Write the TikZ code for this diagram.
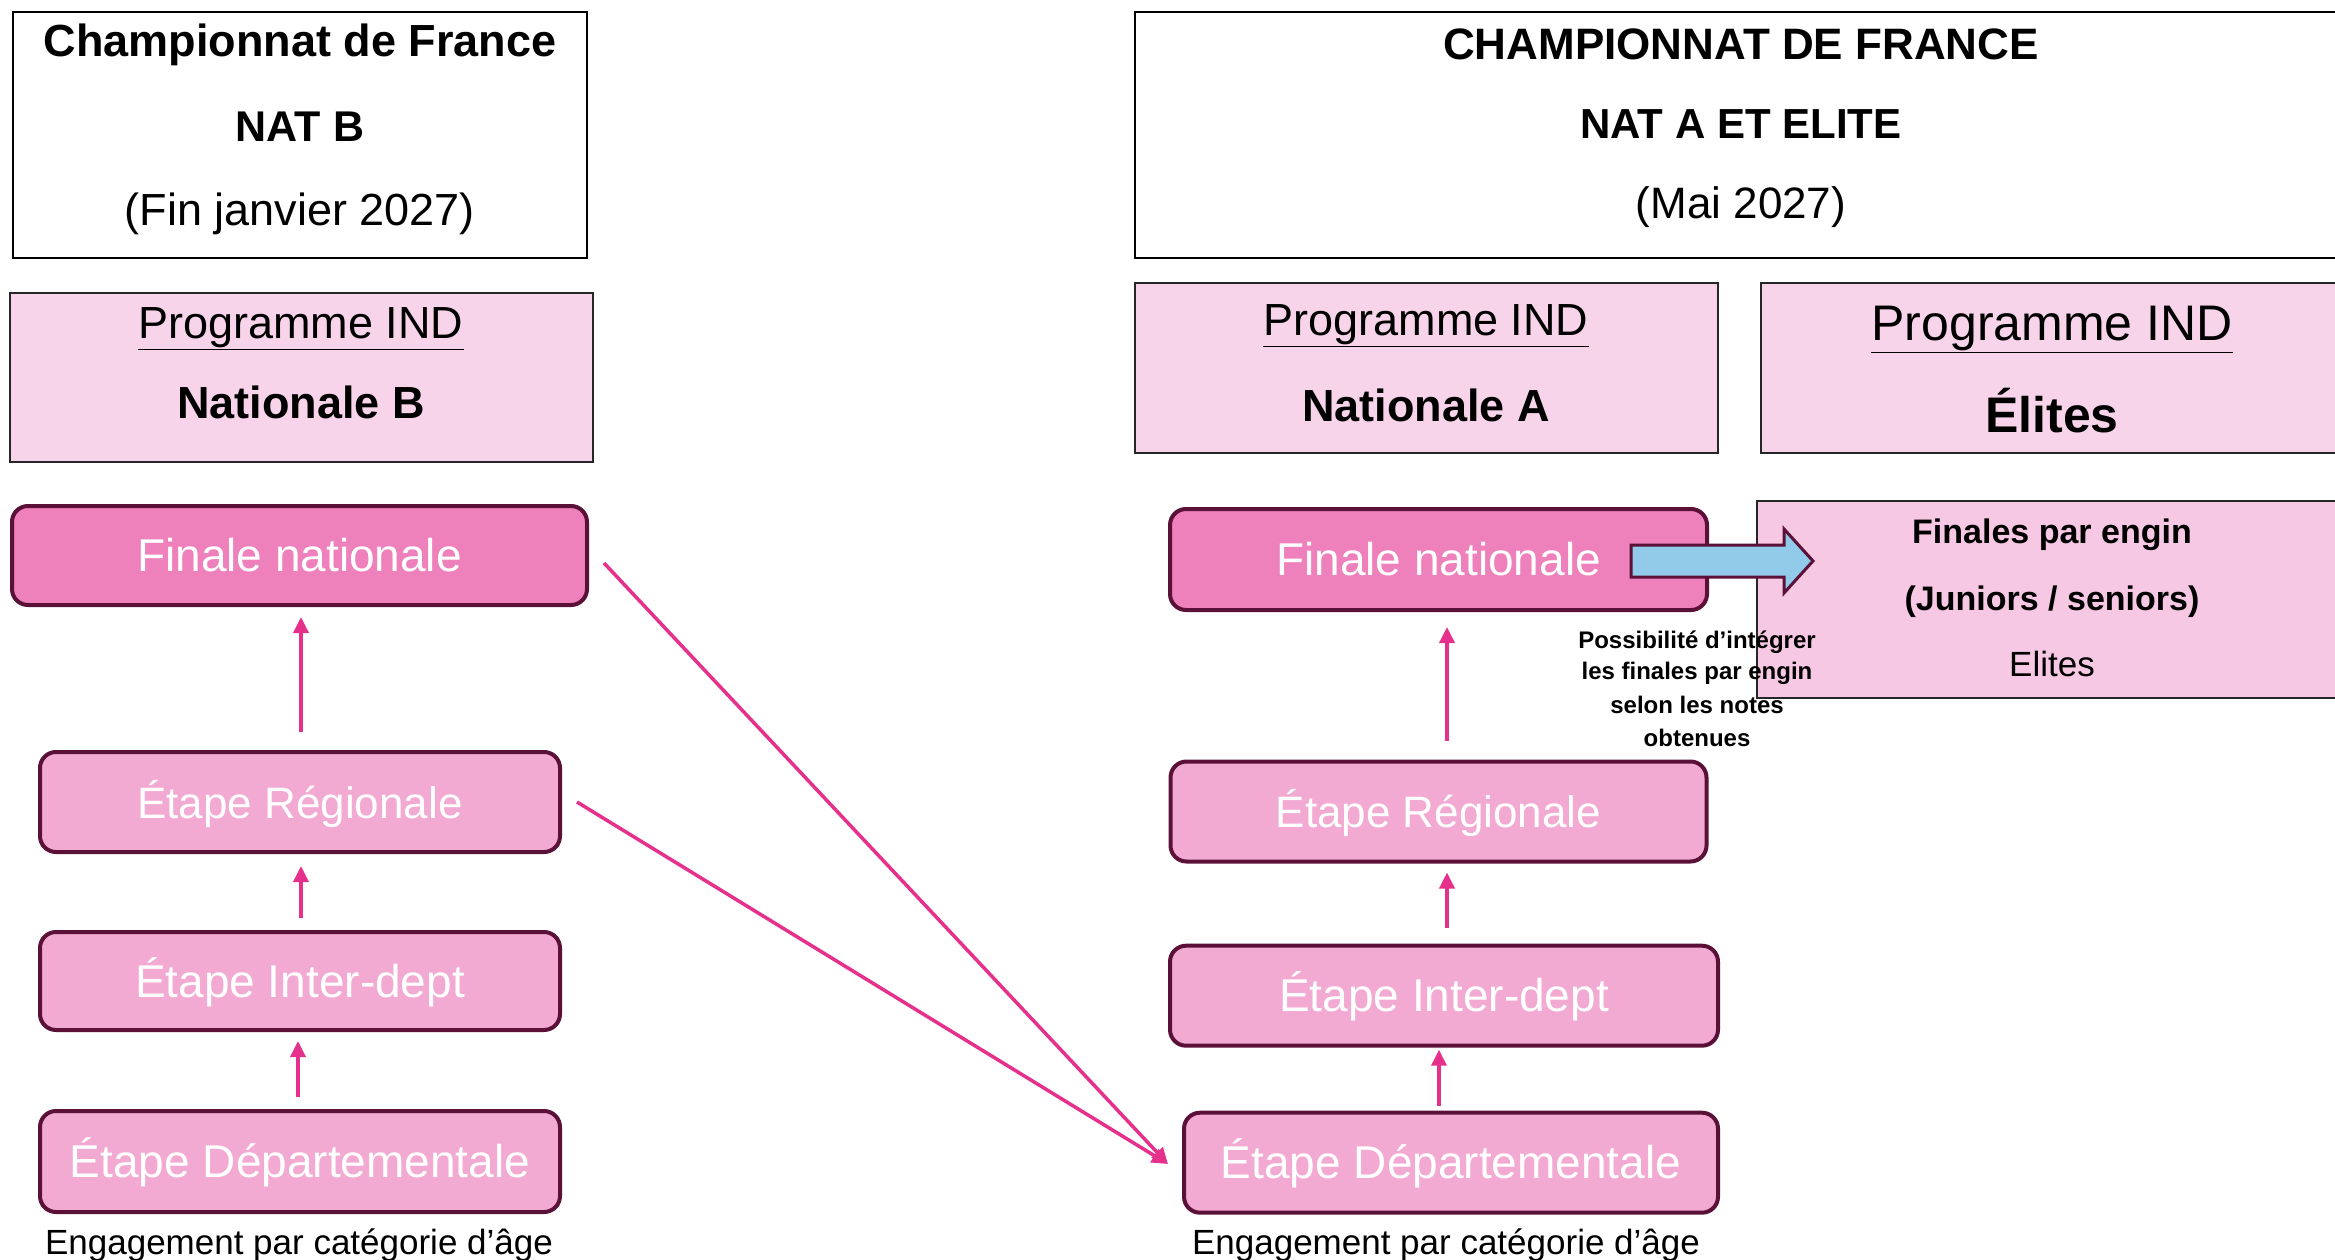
\documentclass[tikz,border=0pt]{standalone}
\usepackage{fontspec}
\setmainfont{Liberation Sans}
\usetikzlibrary{arrows.meta}
\definecolor{finpink}{HTML}{EE80BC}
\definecolor{stagepink}{HTML}{F2AAD3}
\definecolor{progpink}{HTML}{F7D4E9}
\definecolor{enginpink}{HTML}{F7C8E3}
\definecolor{darkplum}{HTML}{5B1038}
\definecolor{arrowpink}{HTML}{E5318C}
\definecolor{bluefill}{HTML}{92CBEA}
\newcommand\fsz[1]{\fontsize{#1}{#1}\selectfont}
\tikzset{
  titlebox/.style={draw=black, line width=2pt, fill=white, inner sep=0pt},
  progbox/.style={draw=black!85, line width=2pt, fill=progpink, inner sep=0pt},
  stagebox/.style={draw=darkplum, line width=4pt, rounded corners=16pt, fill=stagepink, text=white, inner sep=0pt, text height=40pt, text depth=8pt},
  finbox/.style={stagebox, fill=finpink},
  flow/.style={draw=arrowpink, line width=3.5pt, -{Triangle[length=16pt,width=15pt]}},
  blockarrow/.style={draw=darkplum, line width=3pt, fill=bluefill, line join=miter},
  txt/.style={inner sep=0pt, text=black}
}
\begin{document}
\begin{tikzpicture}[x=1pt, y=-1pt]
\useasboundingbox (0,0) rectangle (2335,1260);
% ---------- left column ----------
\node[titlebox, minimum width=574pt, minimum height=246pt] (tL) at (300,135) {};
\node[txt, font=\fsz{45}\bfseries] (tL1) at (300,44.5) {Championnat de France};
\node[txt, font=\fsz{43}\bfseries] (tL2) at (300,126.5) {NAT B};
\node[txt, font=\fsz{45}] (tL3) at (300,214) {(Fin janvier 2027)};

\node[progbox, minimum width=583pt, minimum height=169pt] (pB) at (301.5,377.5) {};
\node[txt, font=\fsz{45}] (pB1) at (301,329) {\underline{Programme IND}};
\node[txt, font=\fsz{45}\bfseries] (pB2) at (301,402) {Nationale B};

\node[finbox, minimum width=575pt, minimum height=99pt, font=\fsz{46}] (finL) at (299.5,555.5) {Finale nationale};
\node[stagebox, minimum width=520pt, minimum height=100pt, font=\fsz{44}] (regL) at (300,802) {Étape Régionale};
\node[stagebox, minimum width=520pt, minimum height=98pt, font=\fsz{46}] (intL) at (300,981) {Étape Inter-dept};
\node[stagebox, minimum width=520pt, minimum height=101pt, font=\fsz{46}] (depL) at (300,1161.5) {Étape Départementale};
\node[txt, font=\fsz{35}] (engL) at (299,1245) {Engagement par catégorie d’âge};

% ---------- right column ----------
\node[titlebox, minimum width=1212pt, minimum height=246pt] (tR) at (1741,135) {};
\node[txt, font=\fsz{44}\bfseries] (tR1) at (1741,44.5) {CHAMPIONNAT DE FRANCE};
\node[txt, font=\fsz{42}\bfseries] (tR2) at (1741,124) {NAT A ET ELITE};
\node[txt, font=\fsz{44}] (tR3) at (1741,207.5) {(Mai 2027)};

\node[progbox, minimum width=583pt, minimum height=170pt] (pA) at (1426.5,368) {};
\node[txt, font=\fsz{45}] (pA1) at (1426,326) {\underline{Programme IND}};
\node[txt, font=\fsz{45}\bfseries] (pA2) at (1426,405) {Nationale A};

\node[progbox, minimum width=582pt, minimum height=170pt] (pE) at (2052,368) {};
\node[txt, font=\fsz{50}] (pE1) at (2052,329) {\underline{Programme IND}};
\node[txt, font=\fsz{50}\bfseries] (pE2) at (2052,411) {Élites};

\node[finbox, minimum width=537pt, minimum height=101pt, font=\fsz{46}] (finR) at (1438.5,559.5) {Finale nationale};
\node[progbox, fill=enginpink, minimum width=590pt, minimum height=197pt] (engin) at (2052,599.5) {};
\node[txt, font=\fsz{34}\bfseries] (engin1) at (2052,534.5) {Finales par engin};
\node[txt, font=\fsz{34}\bfseries] (engin2) at (2052,601.5) {(Juniors / seniors)};
\node[txt, font=\fsz{35}] (engin3) at (2052,664) {Elites};

% block arrow from Finale nationale to Finales par engin
\draw[blockarrow] (1631,545) -- (1784,545) -- (1784,529) -- (1813,561) -- (1784,593) -- (1784,577) -- (1631,577) -- cycle;

\node[txt, font=\fsz{24}\bfseries] (note1) at (1697,642) {Possibilité d’intégrer};
\node[txt, font=\fsz{24}\bfseries] (note2) at (1697,673) {les finales par engin};
\node[txt, font=\fsz{24}\bfseries] (note3) at (1697,705) {selon les notes};
\node[txt, font=\fsz{24}\bfseries] (note4) at (1697,738) {obtenues};

\node[stagebox, minimum width=536pt, minimum height=100pt, font=\fsz{44}] (regR) at (1438.5,811.5) {Étape Régionale};
\node[stagebox, minimum width=548pt, minimum height=100pt, font=\fsz{46}] (intR) at (1444,995.7) {Étape Inter-dept};
\node[stagebox, minimum width=534pt, minimum height=100pt, font=\fsz{46}] (depR) at (1451,1162.7) {Étape Départementale};
\node[txt, font=\fsz{35}] (engR) at (1446,1245) {Engagement par catégorie d’âge};

% ---------- connectors ----------
\coordinate (aL1) at ([xshift=1pt]regL.north);
\coordinate (aL2) at ([xshift=1pt]intL.north);
\coordinate (aL3) at ([xshift=-2pt]depL.north);
\draw[flow, shorten <=18pt, shorten >=10pt] (aL1) -- (finL.south -| aL1);
\draw[flow, shorten <=12pt, shorten >=12pt] (aL2) -- (regL.south -| aL2);
\draw[flow, shorten <=12pt, shorten >=9pt] (aL3) -- (intL.south -| aL3);

\coordinate (aR1) at ([xshift=8.5pt]regR.north);
\coordinate (aR2) at ([xshift=3pt]intR.north);
\coordinate (aR3) at ([xshift=-12pt]depR.north);
\draw[flow, shorten <=19pt, shorten >=15pt] (aR1) -- (finR.south -| aR1);
\draw[flow, shorten <=16pt, shorten >=9pt] (aR2) -- (regR.south -| aR2);
\draw[flow, shorten <=5pt, shorten >=2pt] (aR3) -- (intR.south -| aR3);

\draw[flow] ([xshift=15pt,yshift=-7.5pt]finL.east) -- ([xshift=-14pt,yshift=-1.3pt]depR.west);
\draw[flow] ([xshift=15pt]regL.east) -- ([xshift=-14pt,yshift=-1.3pt]depR.west);
\end{tikzpicture}
\end{document}
